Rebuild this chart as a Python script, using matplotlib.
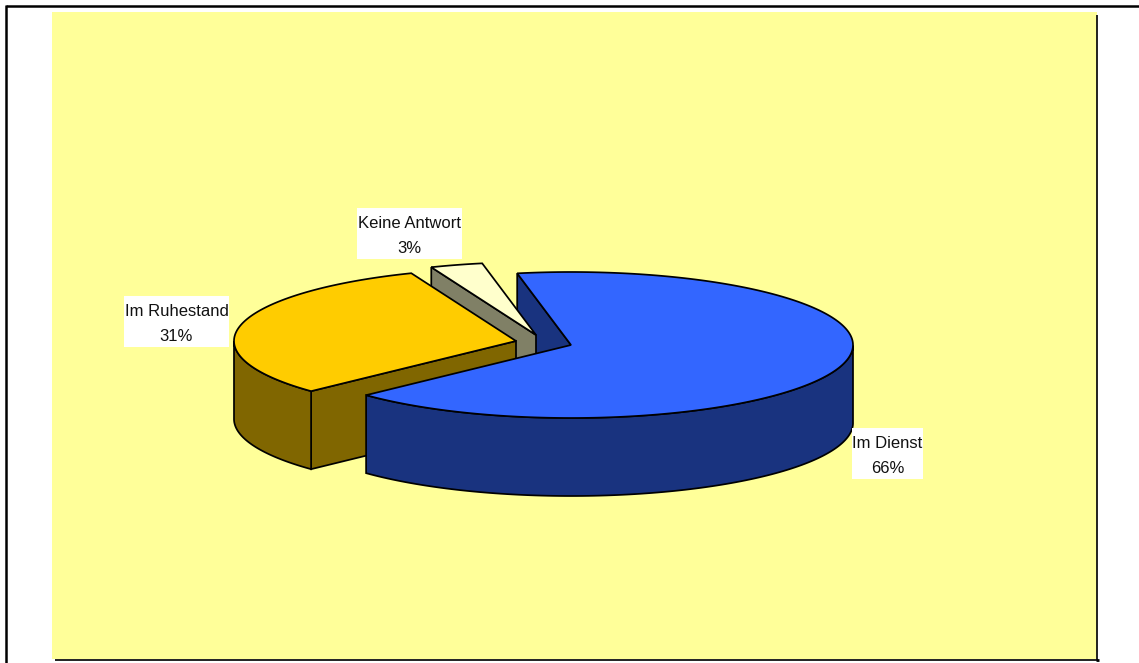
import numpy as np
import matplotlib
matplotlib.use('Agg')
import matplotlib.pyplot as plt
from matplotlib.patches import Polygon, Rectangle

plt.rcParams['font.family'] = ['Liberation Sans', 'DejaVu Sans']

# Verteilung der Antworten
labels = ['Im Dienst', 'Im Ruhestand', 'Keine Antwort']
values = [66, 31, 3]

top_colors = ['#3366FF', '#FFCC00', '#FFFFCC']
side_colors = ['#19337F', '#806600', '#808066']

# Mittelpunkt jedes Stuecks, die kleineren sind herausgezogen
centers = [(571, 345), (516, 341), (536, 335)]
box_rects = [(852, 428, 71, 51), (124, 296, 105, 51), (357, 208, 105, 51)]

rx, ry = 282, 73
depth = 78
start = 101
edge_lw = 1.25

fig = plt.figure(figsize=(11.39, 6.63), dpi=100, facecolor='white')
ax = fig.add_axes([0, 0, 1, 1])
ax.set_xlim(0, 1139)
ax.set_ylim(663, 0)
ax.axis('off')

# Hintergrund und Rahmen
ax.add_patch(Rectangle((51.5, 11.5), 1045, 647, fc='#FFFF99', ec='none', zorder=0))
ax.plot([6, 1139], [6, 6], color='black', lw=1.8, zorder=1, solid_capstyle='butt')
ax.plot([6, 6], [5, 663], color='black', lw=1.8, zorder=1, solid_capstyle='butt')
ax.plot([1097, 1097], [15, 660], color='#111111', lw=1.3, zorder=1, solid_capstyle='butt')
ax.plot([55, 1098], [659.5, 659.5], color='#111111', lw=1.3, zorder=1, solid_capstyle='butt')
ax.plot([1095.5, 1099], [660, 660], color='black', lw=2, zorder=1, solid_capstyle='butt')


def point(c, deg, dz=0):
    t = np.radians(deg)
    return np.column_stack([c[0] + rx * np.cos(t), c[1] - ry * np.sin(t) + dz])


# Winkel im Uhrzeigersinn aus den Werten
sweeps = np.array(values) / sum(values) * 360
a0 = start - np.concatenate([[0], np.cumsum(sweeps)[:-1]])
a1 = a0 - sweeps

# Reihenfolge: blaue Schnittflaeche, dann die kleinen Stuecke, zuletzt Blau oben
zorders = [(10, 30), (20, 20), (15, 15)]

for i in range(3):
    c = centers[i]
    z_cut, z_top = zorders[i]
    angles = np.linspace(a0[i], a1[i], 200)
    apex = np.array([c])

    # Schnittflaeche an der Startkante, nur diese ist sichtbar
    p0 = point(c, a0[i])
    cut = np.vstack([apex, p0, p0 + [0, depth], apex + [0, depth]])
    ax.add_patch(Polygon(cut, fc=side_colors[i], ec='black', lw=edge_lw, zorder=z_cut))

    # Aussenwand, nur der vordere Teil des Bogens
    front = angles[np.sin(np.radians(angles)) <= 0]
    if len(front) > 1:
        wall = np.vstack([point(c, front), point(c, front[::-1], depth)])
        ax.add_patch(Polygon(wall, fc=side_colors[i], ec='black', lw=edge_lw, zorder=z_top + 1))

    # Deckflaeche
    ax.add_patch(Polygon(np.vstack([apex, point(c, angles)]), fc=top_colors[i], ec='black',
                         lw=edge_lw, joinstyle='miter', zorder=z_top + 2))

# Beschriftungen, Name und Prozentwert als zwei Zeilen
for name, val, r in zip(labels, values, box_rects):
    ax.add_patch(Rectangle(r[:2], r[2], r[3], fc='white', ec='none', zorder=40))
    mid = r[0] + r[2] / 2
    ax.text(mid, r[1] + 20, name, ha='center', va='baseline', fontsize=12,
            color='#111111', zorder=41)
    ax.text(mid, r[1] + 45, f'{val}%', ha='center', va='baseline', fontsize=12,
            color='#111111', zorder=41)

fig.savefig('out.png', dpi=100, facecolor='white')
